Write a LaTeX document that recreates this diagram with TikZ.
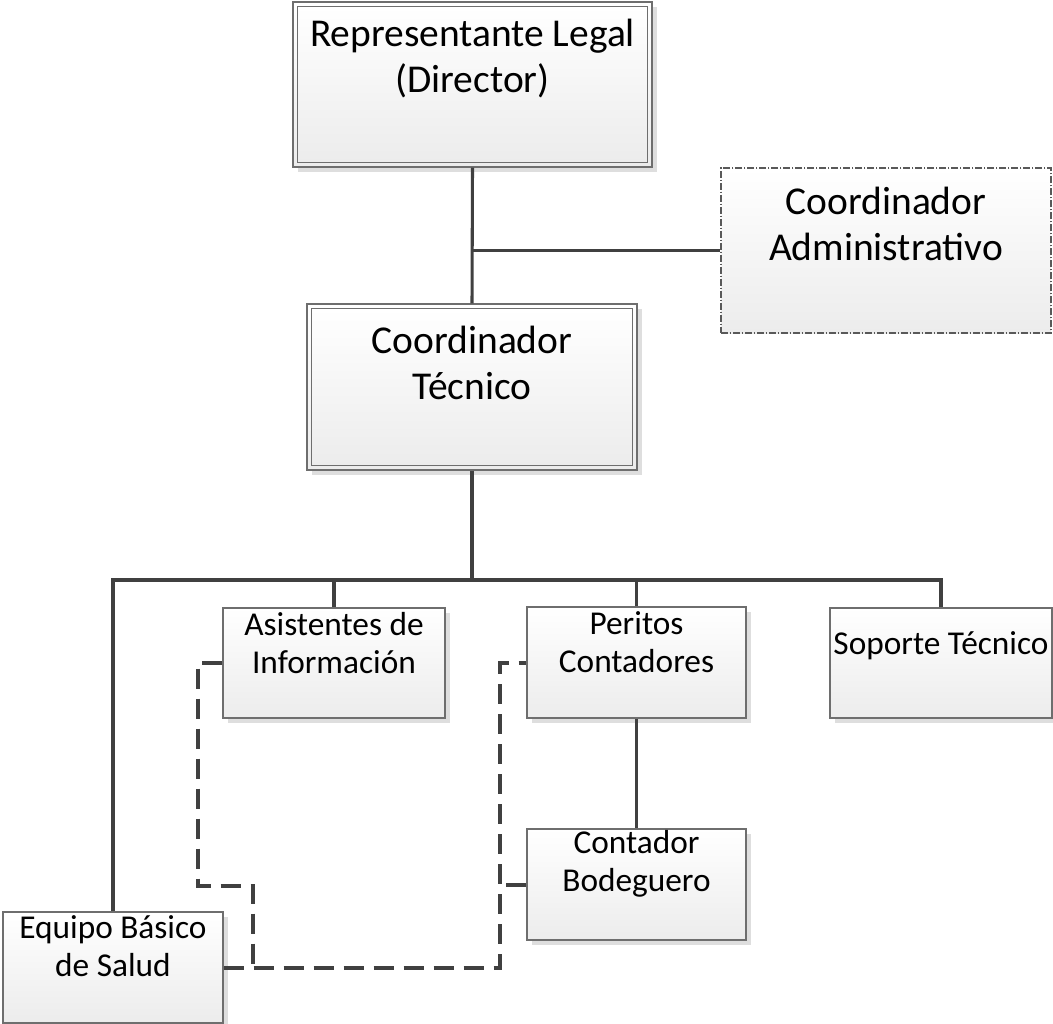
\documentclass[tikz,border=0pt]{standalone}
\usepackage{fontspec}
\setmainfont{Carlito}
\usetikzlibrary{shadows}
\definecolor{boxline}{HTML}{6E6E6E}
\definecolor{conn}{HTML}{404040}
\definecolor{shade}{HTML}{ECECEC}
\begin{document}
\begin{tikzpicture}[x=0.75pt,y=-0.75pt,
  box/.style={draw=boxline, line width=0.9pt, top color=white, bottom color=shade,
    drop shadow={shadow xshift=3.75pt, shadow yshift=-3.75pt, fill=black!13, opacity=1},
    inner sep=0pt},
  plain/.style={draw=boxline, line width=0.9pt, top color=white, bottom color=shade},
  bigtxt/.style={font=\fontsize{29.6pt}{34.5pt}\selectfont, align=center, inner sep=0pt, anchor=base},
  smalltxt/.style={font=\fontsize{25pt}{28.5pt}\selectfont, align=center, inner sep=0pt, anchor=base},
  link/.style={draw=conn, line width=2.3pt},
  dashlink/.style={draw=conn, line width=3pt, dash pattern=on 15pt off 7.5pt},
  dotdash/.style={draw=black!65, line width=0.8pt, dash pattern=on 5pt off 1.5pt on 1pt off 1.5pt}
]
\useasboundingbox (0,0) rectangle (1053,1024);

% upper level boxes (text anchored at the baseline of the last line)
\node[box, minimum width=359*0.75pt, minimum height=165*0.75pt] (rl) at (472.5,84.5) {};
\draw[plain] ([shift={(5,5)}]rl.north west) rectangle ([shift={(-5,-5)}]rl.south east);
\node[bigtxt] (rlt) at (472.5,93) {Representante Legal\\(Director)};

\node[top color=white, bottom color=shade, dotdash, minimum width=330*0.75pt, minimum height=165*0.75pt, inner sep=0pt] (ca) at (886,250.5) {};
\node[bigtxt] (cat) at (886,260) {Coordinador\\Administrativo};

\node[box, minimum width=330*0.75pt, minimum height=166*0.75pt] (ct) at (472,387) {};
\draw[plain] ([shift={(5,5)}]ct.north west) rectangle ([shift={(-5,-5)}]ct.south east);
\node[bigtxt] (ctt) at (472,399) {Coordinador\\Técnico};

% lower level boxes
\node[box, minimum width=222*0.75pt, minimum height=110*0.75pt] (ai) at (334,663) {};
\node[smalltxt] (ait) at (334,673) {Asistentes de\\Información};

\node[box, minimum width=219*0.75pt, minimum height=111*0.75pt] (pc) at (636.5,662.5) {};
\node[smalltxt] (pct) at (636.5,672) {Peritos\\Contadores};

\node[box, minimum width=222*0.75pt, minimum height=110*0.75pt] (st) at (941,663) {};
\node[smalltxt] (stt) at (941,654) {Soporte Técnico};

\node[box, minimum width=219*0.75pt, minimum height=111*0.75pt] (cb) at (636.5,884.5) {};
\node[smalltxt] (cbt) at (636.5,891) {Contador\\Bodeguero};

\node[box, minimum width=220*0.75pt, minimum height=111*0.75pt] (eq) at (113,967.5) {};
\node[smalltxt] (eqt) at (113,976) {Equipo Básico\\de Salud};

% solid hierarchy lines
\draw[link] (rl.south) -- (ct.north);
\draw[link] (ca.west) -- (ca.west -| rl.south);
\coordinate (bus) at (472,580);
\draw[link] (ct.south) -- (bus);
\draw[link] (eq.north) -- (eq.north |- bus) -- (st.north |- bus) -- (st.north);
\draw[link] (ai.north) -- (ai.north |- bus);
\draw[link] (pc.north) -- (pc.north |- bus);
\draw[link] (pc.south) -- (cb.north);

% dashed functional lines
\coordinate (k1) at (198,886);
\coordinate (k2) at (253,886);
\coordinate (k3) at (500,0);
\draw[dashlink] (ai.west) -| (k1) -- (k2) -- (k2 |- eq.east);
\draw[dashlink] (eq.east) -| (k3 |- pc.west) -- (pc.west);
\draw[dashlink] (cb.west) -- (cb.west -| k3);
\end{tikzpicture}
\end{document}
